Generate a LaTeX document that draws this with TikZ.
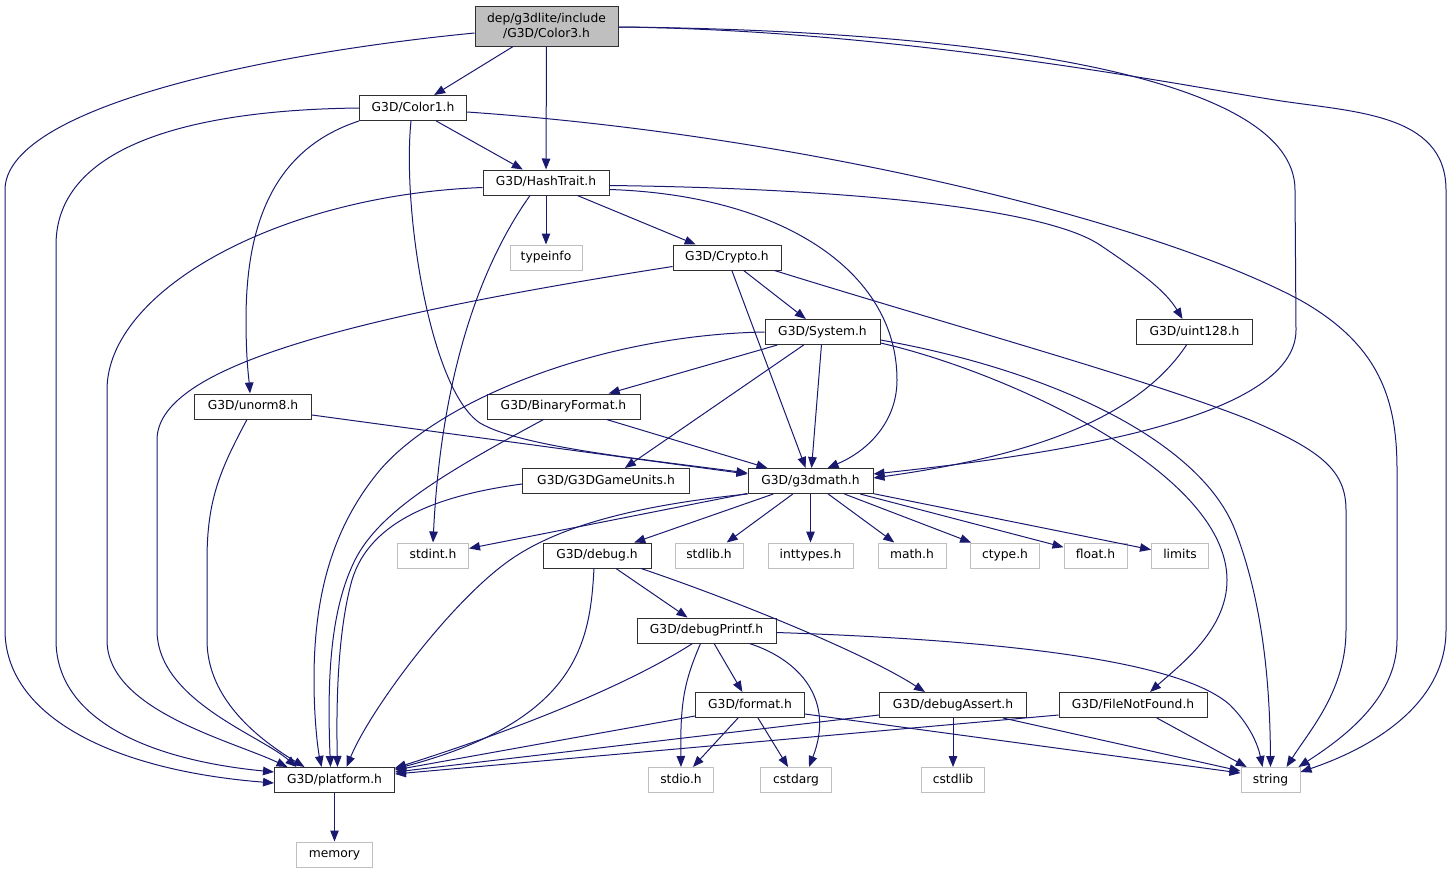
\documentclass[tikz,border=0pt]{standalone}
\usepackage{fontspec}
\setmainfont{DejaVu Sans}
\usetikzlibrary{arrows.meta}
\definecolor{edgeblue}{HTML}{191970}
\definecolor{greyl}{HTML}{BFBFBF}
\definecolor{boxline}{HTML}{303030}
\begin{document}
\begin{tikzpicture}[x=1pt,y=-1pt,
  every node/.style={font=\fontsize{12.3}{15}\selectfont, inner sep=0pt},
  hdr/.style={draw=boxline, line width=1pt, fill=white, minimum height=25pt, text height=9pt, text depth=2.5pt},
  ext/.style={draw=greyl, line width=1pt, fill=white, minimum height=25pt, text height=9pt, text depth=2.5pt},
  root/.style={draw=boxline, line width=1pt, fill=greyl, minimum height=40pt, minimum width=143pt, align=center},
  dep/.style={draw=edgeblue, line width=1pt, -{Triangle[length=11pt,width=8.5pt]}}]
\useasboundingbox (0,0) rectangle (1453,873);
% nodes
\node[root] (c3) at (546.5,26) {dep/g3dlite/include\\/G3D/Color3.h};
\node[hdr,minimum width=107pt] (c1) at (413,108) {G3D/Color1.h};
\node[hdr,minimum width=126pt] (ht) at (546,182.5) {G3D/HashTrait.h};
\node[ext,minimum width=72pt] (ti) at (546,257.5) {typeinfo};
\node[hdr,minimum width=108pt] (cr) at (727,257.5) {G3D/Crypto.h};
\node[hdr,minimum width=115pt] (sys) at (822.5,332) {G3D/System.h};
\node[hdr,minimum width=116pt] (u128) at (1194.5,332) {G3D/uint128.h};
\node[hdr,minimum width=117pt] (un8) at (253,406.5) {G3D/unorm8.h};
\node[hdr,minimum width=153pt] (bf) at (563.5,406.5) {G3D/BinaryFormat.h};
\node[hdr,minimum width=167pt] (gu) at (606,481) {G3D/G3DGameUnits.h};
\node[hdr,minimum width=125pt] (gm) at (810.5,481) {G3D/g3dmath.h};
\node[ext,minimum width=71pt] (sint) at (433,555.5) {stdint.h};
\node[hdr,minimum width=108pt] (dbg) at (597,555.5) {G3D/debug.h};
\node[ext,minimum width=68pt] (slib) at (709,555.5) {stdlib.h};
\node[ext,minimum width=85pt] (itypes) at (810.5,555.5) {inttypes.h};
\node[ext,minimum width=68pt] (mth) at (912,555.5) {math.h};
\node[ext,minimum width=69pt] (ctp) at (1005,555.5) {ctype.h};
\node[ext,minimum width=63pt] (flt) at (1095.5,555.5) {float.h};
\node[ext,minimum width=57pt] (lim) at (1180,555.5) {limits};
\node[hdr,minimum width=139pt] (dpf) at (706.5,630.5) {G3D/debugPrintf.h};
\node[hdr,minimum width=109pt] (fmt) at (750,705) {G3D/format.h};
\node[hdr,minimum width=147pt] (das) at (953,705) {G3D/debugAssert.h};
\node[hdr,minimum width=148pt] (fnf) at (1133,705) {G3D/FileNotFound.h};
\node[hdr,minimum width=120pt] (plat) at (334.5,780) {G3D/platform.h};
\node[ext,minimum width=65pt] (sio) at (681,780) {stdio.h};
\node[ext,minimum width=71pt] (carg) at (796,780) {cstdarg};
\node[ext,minimum width=63pt] (clib) at (953,780) {cstdlib};
\node[ext,minimum width=59pt] (str) at (1270.5,780) {string};
\node[ext,minimum width=76pt] (mem) at (334.5,854.5) {memory};
% edges from Color3
\draw[dep] ([yshift=-7pt]c3.west) .. controls (250,55) and (5,110) .. (5,190) -- (5,630) .. controls (5,715) and (110,770) .. ([yshift=-3pt]plat.west);
\draw[dep] (c3) -- (c1);
\draw[dep] (c3) -- (ht);
\draw[dep] ([yshift=-1pt]c3.east) .. controls (950,30) and (1295,70) .. (1295,190) -- (1296,330) .. controls (1296,420) and (1050,455) .. ([yshift=7pt]gm.east);
\draw[dep] ([yshift=-1pt]c3.east) .. controls (900,30) and (1180,85) .. (1275,100) .. controls (1350,112) and (1446,112) .. (1446,190) -- (1446,630) .. controls (1446,700) and (1380,745) .. ([yshift=8pt]str.east);
% edges from Color1
\draw[dep] (c1.west) .. controls (180,110) and (56,150) .. (56,245) -- (56,640) .. controls (56,720) and (150,760) .. ([yshift=8pt]plat.west);
\draw[dep] (c1.south west) .. controls (270,150) and (246,230) .. (246,320) .. controls (246,360) and (249,380) .. ([xshift=-3pt]un8.north);
\draw[dep] ([xshift=-2pt]c1.south) .. controls (402,210) and (430,390) .. (480,423) .. controls (520,447) and (650,460) .. ([yshift=8pt]gm.west);
\draw[dep] (c1) -- (ht);
\draw[dep] ([yshift=-4pt]c1.east) .. controls (800,135) and (1150,220) .. (1300,300) .. controls (1380,345) and (1397,400) .. (1397,470) -- (1397,640) .. controls (1397,700) and (1340,740) .. ([xshift=-2pt]str.north east);
% edges from HashTrait
\draw[dep] ([yshift=-5pt]ht.west) .. controls (280,195) and (107,290) .. (107,390) -- (107,640) .. controls (107,710) and (230,740) .. ([xshift=-47pt]plat.north);
\draw[dep] ([xshift=-16pt]ht.south) .. controls (470,280) and (440,400) .. (sint.north);
\draw[dep] (ht) -- (ti);
\draw[dep] (ht) -- (cr);
\draw[dep] ([yshift=-7pt]ht.east) .. controls (780,195) and (897,270) .. (897,380) .. controls (897,420) and (870,450) .. ([xshift=17pt]gm.north);
\draw[dep] ([yshift=-3pt]ht.east) .. controls (820,188) and (1040,205) .. (1100,245) .. controls (1140,272) and (1165,290) .. ([xshift=-12pt]u128.north);
% edges from Crypto
\draw[dep] ([yshift=-9pt]cr.west) .. controls (330,320) and (157,370) .. (157,440) -- (157,630) .. controls (157,700) and (260,735) .. ([xshift=-38pt]plat.north);
\draw[dep] (cr) -- (gm);
\draw[dep] (cr) -- (sys);
\draw[dep] ([xshift=-7pt]cr.south east) .. controls (950,325) and (1150,380) .. (1250,420) .. controls (1320,450) and (1346,470) .. (1346,510) -- (1346,630) .. controls (1346,690) and (1310,730) .. ([xshift=16pt]str.north);
% edges from System
\draw[dep] (sys.west) .. controls (600,335) and (440,400) .. (380,470) .. controls (330,530) and (314,600) .. (314,680) .. controls (314,720) and (318,750) .. ([xshift=-13pt]plat.north);
\draw[dep] (sys) -- (bf);
\draw[dep] (sys) -- (gu);
\draw[dep] (sys) -- (gm);
\draw[dep] ([yshift=-11pt]sys.east) .. controls (1000,370) and (1227,470) .. (1227,580) .. controls (1227,630) and (1180,665) .. ([xshift=17pt]fnf.north);
\draw[dep] ([yshift=-8pt]sys.east) .. controls (1050,370) and (1200,440) .. (1235,530) .. controls (1262,600) and (1270,680) .. (str.north);
% uint128
\draw[dep] ([xshift=-8pt]u128.south) .. controls (1130,430) and (1000,460) .. ([yshift=3pt]gm.east);
% unorm8
\draw[dep] ([yshift=-8.5pt]un8.east) -- ([yshift=7pt]gm.west);
\draw[dep] ([xshift=-6pt]un8.south) .. controls (220,470) and (207,500) .. (207,560) -- (207,640) .. controls (207,700) and (260,740) .. ([xshift=-30pt]plat.north);
% BinaryFormat
\draw[dep] ([xshift=-20pt]bf.south) .. controls (450,470) and (380,510) .. (355,560) .. controls (330,610) and (327,680) .. ([xshift=-4pt]plat.north);
\draw[dep] (bf) -- (gm);
% G3DGameUnits
\draw[dep] ([yshift=-3pt]gu.west) .. controls (440,495) and (370,520) .. (352,580) .. controls (338,630) and (336,700) .. ([xshift=3pt]plat.north);
% g3dmath
\draw[dep] (gm.south west) .. controls (640,505) and (560,525) .. (510,560) .. controls (450,602) and (370,710) .. ([xshift=12pt]plat.north);
\draw[dep] (gm) -- (sint);
\draw[dep] (gm) -- (dbg);
\draw[dep] (gm) -- (slib);
\draw[dep] (gm) -- (itypes);
\draw[dep] (gm) -- (mth);
\draw[dep] (gm) -- (ctp);
\draw[dep] (gm) -- (flt);
\draw[dep] (gm) -- (lim);
% debug
\draw[dep] ([xshift=-3pt]dbg.south) .. controls (590,640) and (580,720) .. ([yshift=11pt]plat.east);
\draw[dep] (dbg) -- (dpf);
\draw[dep] ([xshift=44pt]dbg.south) .. controls (720,595) and (860,650) .. ([xshift=-28pt]das.north);
% debugPrintf
\draw[dep] ([xshift=-14pt]dpf.south) .. controls (620,690) and (500,735) .. ([yshift=12pt]plat.east);
\draw[dep] ([xshift=-6pt]dpf.south) .. controls (685,680) and (680,700) .. (sio.north);
\draw[dep] (dpf) -- (fmt);
\draw[dep] ([xshift=43pt]dpf.south) .. controls (800,660) and (835,700) .. ([xshift=13pt]carg.north);
\draw[dep] ([yshift=-2pt]dpf.east) .. controls (1000,640) and (1180,660) .. (1230,705) .. controls (1250,725) and (1258,745) .. ([xshift=-8pt]str.north);
% format
\draw[dep] ([yshift=2pt]fmt.south west) -- ([yshift=10pt]plat.east);
\draw[dep] (fmt) -- (sio);
\draw[dep] (fmt) -- (carg);
\draw[dep] ([yshift=-9pt]fmt.east) -- ([yshift=7pt]str.west);
% debugAssert
\draw[dep] ([yshift=-10pt]das.west) -- ([yshift=8pt]plat.east);
\draw[dep] (das) -- (clib);
\draw[dep] ([xshift=50pt]das.south) -- ([yshift=9pt]str.west);
% FileNotFound
\draw[dep] ([yshift=-10pt]fnf.west) -- ([yshift=6pt]plat.east);
\draw[dep] (fnf) -- (str);
% platform
\draw[dep] (plat) -- (mem);
\end{tikzpicture}
\end{document}
